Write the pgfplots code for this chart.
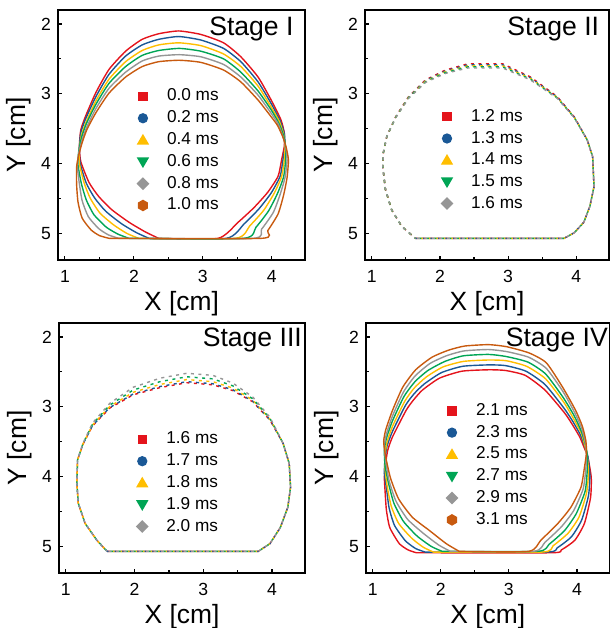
\documentclass[border=0pt]{standalone}
\usepackage{fontspec}
\setmainfont{Liberation Sans}
\usepackage{pgfplots}
\pgfplotsset{compat=1.18}
\definecolor{cR}{RGB}{228,20,28}
\definecolor{cB}{RGB}{26,88,150}
\definecolor{cY}{RGB}{255,190,0}
\definecolor{cG}{RGB}{0,165,85}
\definecolor{cA}{RGB}{150,150,150}
\definecolor{cO}{RGB}{200,90,15}
\pgfplotsset{
 lsq/.style={legend image code/.code={\fill[#1, solid] (0.1cm,-2pt) rectangle ++(4pt,4pt);}},
 lci/.style={legend image code/.code={\fill[#1, solid] (0.1cm+2pt,0pt) circle (2.2pt);}},
 ltr/.style={legend image code/.code={\fill[#1, solid] (0.1cm-0.5pt,-1.9pt) -- ++(5pt,0pt) -- ++(-2.5pt,4.3pt) -- cycle;}},
 liv/.style={legend image code/.code={\fill[#1, solid] (0.1cm-0.5pt,1.9pt) -- ++(5pt,0pt) -- ++(-2.5pt,-4.3pt) -- cycle;}},
 ldi/.style={legend image code/.code={\fill[#1, solid] (0.1cm+2pt,2.7pt) -- ++(2.7pt,-2.7pt) -- ++(-2.7pt,-2.7pt) -- ++(-2.7pt,2.7pt) -- cycle;}},
 lhx/.style={legend image code/.code={\fill[#1, solid] (0.1cm+2pt,2.5pt) -- ++(2.17pt,-1.25pt) -- ++(0pt,-2.5pt) -- ++(-2.17pt,-1.25pt) -- ++(-2.17pt,1.25pt) -- ++(0pt,2.5pt) -- cycle;}},
 stg/.style={
  scale only axis, anchor=south west,
  xmin=0.9, xmax=4.48, ymin=1.8, ymax=5.38, y dir=reverse,
  xtick={1,2,3,4}, ytick={2,3,4,5}, minor x tick num=1, minor y tick num=1,
  tick pos=left, tick align=inside,
  major tick length=2.2pt, minor tick length=1.5pt,
  axis line style={line width=0.7pt}, every tick/.style={line width=0.6pt, black},
  xlabel={X [cm]}, ylabel={Y [cm]},
  label style={font=\fontsize{13.2}{15}\selectfont},
  xlabel shift=-2.5pt, ylabel shift=-2pt,
  tick label style={font=\fontsize{8.8}{10}\selectfont},
  xticklabel style={yshift=-1.6pt},
  /pgf/number format/assume math mode=true,
  legend cell align=left,
  legend style={draw=none, fill=none, font=\fontsize{8.6}{10}\selectfont, row sep=-0.6pt, column sep=7pt},
  every axis plot/.append style={line width=0.7pt},
 },
 dsh/.style={dash pattern=on 1.5pt off 2.25pt, dash phase=#1},
}
\begin{document}
\begin{tikzpicture}
\useasboundingbox (0pt,0pt) rectangle (305.5pt,314pt);
% ---------------- Stage I ----------------
\begin{axis}[stg, at={(29pt,184pt)}, width=123.5pt, height=125pt,
  legend style={at={(axis cs:1.95,2.81)}, anchor=north west}]
\addplot[cR, lsq=cR, smooth, tension=0.35] coordinates {(2.36,5.07) (3.22,5.07) (3.51,4.84) (3.74,4.63) (3.94,4.41) (4.09,4.18) (4.14,3.95) (4.18,3.75) (4.18,3.56) (4.13,3.37) (3.99,3.09) (3.80,2.76) (3.55,2.47) (3.30,2.27) (2.97,2.15) (2.65,2.10) (2.36,2.14) (2.12,2.22) (1.88,2.39) (1.64,2.65) (1.45,2.98) (1.30,3.32) (1.23,3.52) (1.21,3.75) (1.23,3.97) (1.35,4.27) (1.49,4.47) (1.68,4.66) (1.93,4.84) (2.17,4.98) (2.36,5.07)};
\addlegendentry{0.0 ms}
\addplot[cB, lci=cB, smooth, tension=0.35] coordinates {(2.22,5.07) (3.34,5.07) (3.60,4.86) (3.81,4.65) (3.99,4.42) (4.12,4.18) (4.16,3.95) (4.19,3.76) (4.18,3.57) (4.12,3.39) (3.99,3.14) (3.80,2.83) (3.55,2.54) (3.30,2.35) (2.97,2.23) (2.65,2.18) (2.36,2.22) (2.12,2.30) (1.88,2.46) (1.64,2.72) (1.45,3.04) (1.30,3.36) (1.23,3.56) (1.21,3.78) (1.22,3.99) (1.31,4.28) (1.43,4.49) (1.59,4.68) (1.82,4.86) (2.04,4.99) (2.22,5.07)};
\addlegendentry{0.2 ms}
\addplot[cY, ltr=cY, smooth, tension=0.35] coordinates {(2.07,5.07) (3.47,5.07) (3.68,4.89) (3.88,4.67) (4.03,4.43) (4.14,4.19) (4.18,3.95) (4.19,3.76) (4.17,3.58) (4.11,3.40) (3.99,3.19) (3.80,2.89) (3.55,2.61) (3.30,2.43) (2.97,2.31) (2.65,2.27) (2.36,2.30) (2.12,2.38) (1.88,2.54) (1.64,2.79) (1.45,3.10) (1.31,3.40) (1.24,3.59) (1.21,3.80) (1.21,4.00) (1.28,4.28) (1.37,4.50) (1.51,4.71) (1.71,4.88) (1.90,5.00) (2.07,5.07)};
\addlegendentry{0.4 ms}
\addplot[cG, liv=cG, smooth, tension=0.35] coordinates {(1.93,5.07) (3.59,5.07) (3.77,4.91) (3.95,4.68) (4.08,4.43) (4.17,4.19) (4.20,3.95) (4.20,3.77) (4.17,3.60) (4.10,3.42) (3.99,3.23) (3.80,2.96) (3.55,2.69) (3.30,2.50) (2.97,2.39) (2.66,2.35) (2.36,2.38) (2.12,2.45) (1.88,2.61) (1.64,2.85) (1.45,3.15) (1.31,3.43) (1.24,3.63) (1.20,3.83) (1.19,4.02) (1.24,4.29) (1.31,4.52) (1.42,4.73) (1.60,4.91) (1.77,5.01) (1.93,5.07)};
\addlegendentry{0.6 ms}
\addplot[cA, ldi=cA, smooth, tension=0.35] coordinates {(1.78,5.07) (3.72,5.07) (3.85,4.94) (4.02,4.70) (4.12,4.44) (4.19,4.20) (4.22,3.95) (4.20,3.77) (4.16,3.61) (4.09,3.43) (3.99,3.28) (3.80,3.02) (3.55,2.76) (3.30,2.58) (2.97,2.47) (2.66,2.44) (2.36,2.46) (2.12,2.53) (1.88,2.69) (1.64,2.92) (1.45,3.21) (1.32,3.47) (1.25,3.66) (1.20,3.85) (1.18,4.03) (1.21,4.29) (1.25,4.53) (1.34,4.76) (1.49,4.93) (1.63,5.02) (1.78,5.07)};
\addlegendentry{0.8 ms}
\addplot[cO, lhx=cO, smooth, tension=0.35] coordinates {(1.64,5.07) (3.84,5.07) (3.94,4.96) (4.09,4.72) (4.17,4.45) (4.22,4.20) (4.24,3.95) (4.21,3.78) (4.16,3.62) (4.08,3.45) (3.99,3.33) (3.80,3.09) (3.55,2.83) (3.30,2.66) (2.97,2.55) (2.66,2.52) (2.36,2.54) (2.12,2.61) (1.88,2.76) (1.64,2.99) (1.45,3.27) (1.32,3.51) (1.25,3.70) (1.20,3.88) (1.17,4.05) (1.17,4.30) (1.19,4.55) (1.25,4.78) (1.38,4.95) (1.50,5.03) (1.64,5.07)};
\addlegendentry{1.0 ms}
\node[anchor=north east, inner sep=0pt, font=\fontsize{13.3}{15}\selectfont] at (axis cs:4.32,1.9) {Stage I};
\end{axis}
% ---------------- Stage II ----------------
\begin{axis}[stg, at={(182.5pt,184pt)}, width=122pt, height=125pt,
  legend style={at={(axis cs:1.92,3.10)}, anchor=north west}]
\addplot[cR, lsq=cR, dsh=0pt] coordinates {(1.64,5.07) (3.82,5.07) (3.97,4.99) (4.11,4.84) (4.20,4.61) (4.26,4.33) (4.24,3.90) (4.16,3.66) (3.97,3.33) (3.72,3.04) (3.33,2.76) (2.92,2.57) (2.41,2.57) (2.08,2.66) (1.79,2.80) (1.54,3.04) (1.35,3.33) (1.22,3.61) (1.17,3.84) (1.16,4.04) (1.20,4.37) (1.29,4.66) (1.44,4.90) (1.64,5.07)};
\addlegendentry{1.2 ms}
\addplot[cB, lci=cB, dsh=0.75pt] coordinates {(1.64,5.07) (3.82,5.07) (3.97,4.99) (4.11,4.84) (4.20,4.61) (4.26,4.33) (4.24,3.90) (4.16,3.66) (3.97,3.333) (3.72,3.046) (3.33,2.771) (2.92,2.585) (2.41,2.585) (2.08,2.672) (1.79,2.809) (1.54,3.046) (1.35,3.333) (1.22,3.61) (1.17,3.84) (1.16,4.04) (1.20,4.37) (1.29,4.66) (1.44,4.90) (1.64,5.07)};
\addlegendentry{1.3 ms}
\addplot[cY, ltr=cY, dsh=1.5pt] coordinates {(1.64,5.07) (3.82,5.07) (3.97,4.99) (4.11,4.84) (4.20,4.61) (4.26,4.33) (4.24,3.90) (4.16,3.66) (3.97,3.336) (3.72,3.052) (3.33,2.781) (2.92,2.600) (2.41,2.600) (2.08,2.684) (1.79,2.818) (1.54,3.052) (1.35,3.336) (1.22,3.61) (1.17,3.84) (1.16,4.04) (1.20,4.37) (1.29,4.66) (1.44,4.90) (1.64,5.07)};
\addlegendentry{1.4 ms}
\addplot[cG, liv=cG, dsh=2.25pt] coordinates {(1.64,5.07) (3.82,5.07) (3.97,4.99) (4.11,4.84) (4.20,4.61) (4.26,4.33) (4.24,3.90) (4.16,3.66) (3.97,3.339) (3.72,3.058) (3.33,2.792) (2.92,2.615) (2.41,2.615) (2.08,2.696) (1.79,2.827) (1.54,3.058) (1.35,3.339) (1.22,3.61) (1.17,3.84) (1.16,4.04) (1.20,4.37) (1.29,4.66) (1.44,4.90) (1.64,5.07)};
\addlegendentry{1.5 ms}
\addplot[cA, ldi=cA, dsh=3pt] coordinates {(1.64,5.07) (3.82,5.07) (3.97,4.99) (4.11,4.84) (4.20,4.61) (4.26,4.33) (4.24,3.90) (4.16,3.66) (3.97,3.342) (3.72,3.064) (3.33,2.802) (2.92,2.630) (2.41,2.630) (2.08,2.708) (1.79,2.836) (1.54,3.064) (1.35,3.342) (1.22,3.61) (1.17,3.84) (1.16,4.04) (1.20,4.37) (1.29,4.66) (1.44,4.90) (1.64,5.07)};
\addlegendentry{1.6 ms}
\node[anchor=north east, inner sep=0pt, font=\fontsize{13.3}{15}\selectfont] at (axis cs:4.34,1.9) {Stage II};
\end{axis}
% ---------------- Stage III ----------------
\begin{axis}[stg, at={(29.5pt,27.5pt)}, width=123pt, height=125pt,
  legend style={at={(axis cs:1.93,3.24)}, anchor=north west}]
\addplot[cR, lsq=cR, dsh=0pt] coordinates {(1.60,5.07) (3.80,5.07) (3.97,4.96) (4.12,4.73) (4.23,4.44) (4.27,4.15) (4.25,3.81) (4.16,3.52) (3.97,3.19) (3.72,2.928) (3.43,2.768) (3.14,2.685) (2.76,2.655) (2.37,2.725) (1.98,2.828) (1.64,3.018) (1.39,3.27) (1.25,3.534) (1.17,3.76) (1.16,4.09) (1.18,4.38) (1.28,4.67) (1.45,4.91) (1.60,5.07)};
\addlegendentry{1.6 ms}
\addplot[cB, lci=cB, dsh=0.75pt] coordinates {(1.60,5.07) (3.80,5.07) (3.97,4.96) (4.12,4.73) (4.23,4.44) (4.27,4.15) (4.25,3.81) (4.16,3.52) (3.97,3.186) (3.72,2.92) (3.43,2.756) (3.14,2.67) (2.76,2.64) (2.37,2.71) (1.98,2.816) (1.64,3.01) (1.39,3.266) (1.25,3.532) (1.17,3.76) (1.16,4.09) (1.18,4.38) (1.28,4.67) (1.45,4.91) (1.60,5.07)};
\addlegendentry{1.7 ms}
\addplot[cY, ltr=cY, dsh=1.5pt] coordinates {(1.60,5.07) (3.80,5.07) (3.97,4.96) (4.12,4.73) (4.23,4.44) (4.27,4.15) (4.25,3.81) (4.16,3.52) (3.97,3.177) (3.72,2.905) (3.43,2.732) (3.14,2.64) (2.76,2.61) (2.37,2.68) (1.98,2.792) (1.64,2.995) (1.39,3.257) (1.25,3.529) (1.17,3.76) (1.16,4.09) (1.18,4.38) (1.28,4.67) (1.45,4.91) (1.60,5.07)};
\addlegendentry{1.8 ms}
\addplot[cG, liv=cG, dsh=2.25pt] coordinates {(1.60,5.07) (3.80,5.07) (3.97,4.96) (4.12,4.73) (4.23,4.44) (4.27,4.15) (4.25,3.81) (4.16,3.52) (3.97,3.165) (3.72,2.885) (3.43,2.70) (3.14,2.60) (2.76,2.57) (2.37,2.64) (1.98,2.76) (1.64,2.975) (1.39,3.245) (1.25,3.525) (1.17,3.76) (1.16,4.09) (1.18,4.38) (1.28,4.67) (1.45,4.91) (1.60,5.07)};
\addlegendentry{1.9 ms}
\addplot[cA, ldi=cA, dsh=3pt] coordinates {(1.60,5.07) (3.80,5.07) (3.97,4.96) (4.12,4.73) (4.23,4.44) (4.27,4.15) (4.25,3.81) (4.16,3.52) (3.97,3.15) (3.72,2.86) (3.43,2.66) (3.14,2.55) (2.76,2.52) (2.37,2.59) (1.98,2.72) (1.64,2.95) (1.39,3.23) (1.25,3.52) (1.17,3.76) (1.16,4.09) (1.18,4.38) (1.28,4.67) (1.45,4.91) (1.60,5.07)};
\addlegendentry{2.0 ms}
\node[anchor=north east, inner sep=0pt, font=\fontsize{13.3}{15}\selectfont] at (axis cs:4.44,1.87) {Stage III};
\end{axis}
% ---------------- Stage IV ----------------
\begin{axis}[stg, at={(183pt,27.5pt)}, width=121.8pt, height=125pt,
  legend style={at={(axis cs:1.98,2.83)}, anchor=north west}]
\addplot[cR, lsq=cR, smooth, tension=0.35] coordinates {(1.64,5.09) (3.62,5.09) (3.77,5.05) (3.97,4.91) (4.11,4.67) (4.20,4.30) (4.21,4.01) (4.16,3.72) (4.10,3.57) (4.04,3.43) (3.93,3.25) (3.82,3.09) (3.53,2.76) (3.24,2.55) (2.95,2.48) (2.70,2.47) (2.31,2.49) (1.98,2.59) (1.73,2.76) (1.60,2.90) (1.49,3.05) (1.29,3.43) (1.22,3.62) (1.19,3.80) (1.17,4.01) (1.18,4.20) (1.20,4.48) (1.25,4.73) (1.39,4.96) (1.52,5.05) (1.64,5.09)};
\addlegendentry{2.1 ms}
\addplot[cB, lci=cB, smooth, tension=0.35] coordinates {(1.77,5.08) (3.55,5.08) (3.71,5.02) (3.92,4.86) (4.07,4.62) (4.17,4.27) (4.19,3.98) (4.16,3.71) (4.11,3.55) (4.05,3.40) (3.94,3.21) (3.81,3.02) (3.53,2.68) (3.25,2.49) (2.95,2.41) (2.70,2.40) (2.32,2.42) (2.01,2.51) (1.76,2.67) (1.61,2.81) (1.48,2.98) (1.29,3.35) (1.21,3.56) (1.18,3.74) (1.17,3.95) (1.20,4.16) (1.24,4.45) (1.32,4.70) (1.48,4.92) (1.63,5.03) (1.77,5.08)};
\addlegendentry{2.3 ms}
\addplot[cY, ltr=cY, smooth, tension=0.35] coordinates {(1.89,5.08) (3.49,5.08) (3.65,4.99) (3.87,4.81) (4.03,4.58) (4.14,4.24) (4.17,3.95) (4.15,3.70) (4.11,3.53) (4.06,3.37) (3.95,3.17) (3.81,2.94) (3.54,2.60) (3.26,2.42) (2.96,2.34) (2.70,2.33) (2.33,2.35) (2.03,2.43) (1.79,2.57) (1.61,2.73) (1.47,2.92) (1.29,3.28) (1.21,3.50) (1.18,3.68) (1.18,3.89) (1.21,4.13) (1.27,4.42) (1.38,4.67) (1.57,4.88) (1.74,5.01) (1.89,5.08)};
\addlegendentry{2.5 ms}
\addplot[cG, liv=cG, smooth, tension=0.35] coordinates {(2.02,5.07) (3.42,5.07) (3.59,4.97) (3.82,4.77) (3.99,4.53) (4.12,4.21) (4.15,3.93) (4.15,3.68) (4.12,3.52) (4.06,3.34) (3.96,3.13) (3.80,2.87) (3.54,2.53) (3.28,2.36) (2.96,2.28) (2.70,2.25) (2.33,2.27) (2.06,2.35) (1.81,2.48) (1.62,2.64) (1.46,2.85) (1.29,3.20) (1.20,3.45) (1.17,3.62) (1.18,3.84) (1.23,4.09) (1.31,4.38) (1.45,4.64) (1.65,4.85) (1.86,5.00) (2.02,5.07)};
\addlegendentry{2.7 ms}
\addplot[cA, ldi=cA, smooth, tension=0.35] coordinates {(2.14,5.07) (3.36,5.07) (3.53,4.94) (3.77,4.72) (3.95,4.49) (4.09,4.18) (4.13,3.90) (4.14,3.67) (4.12,3.50) (4.07,3.31) (3.97,3.09) (3.80,2.79) (3.55,2.45) (3.29,2.29) (2.97,2.21) (2.70,2.18) (2.34,2.20) (2.08,2.27) (1.84,2.38) (1.62,2.56) (1.45,2.79) (1.29,3.13) (1.20,3.39) (1.17,3.56) (1.19,3.78) (1.24,4.06) (1.34,4.35) (1.51,4.61) (1.74,4.81) (1.97,4.98) (2.14,5.07)};
\addlegendentry{2.9 ms}
\addplot[cO, lhx=cO, smooth, tension=0.35] coordinates {(2.27,5.07) (3.29,5.07) (3.47,4.91) (3.72,4.67) (3.91,4.44) (4.06,4.15) (4.11,3.87) (4.14,3.66) (4.13,3.48) (4.08,3.28) (3.98,3.05) (3.79,2.72) (3.55,2.37) (3.30,2.23) (2.97,2.14) (2.70,2.11) (2.35,2.13) (2.11,2.19) (1.87,2.29) (1.63,2.47) (1.44,2.72) (1.29,3.05) (1.19,3.33) (1.16,3.50) (1.19,3.72) (1.26,4.02) (1.38,4.32) (1.58,4.58) (1.83,4.77) (2.08,4.96) (2.27,5.07)};
\addlegendentry{3.1 ms}
\node[anchor=north east, inner sep=0pt, font=\fontsize{13.3}{15}\selectfont] at (axis cs:4.46,1.87) {Stage IV};
\end{axis}
\end{tikzpicture}
\end{document}
